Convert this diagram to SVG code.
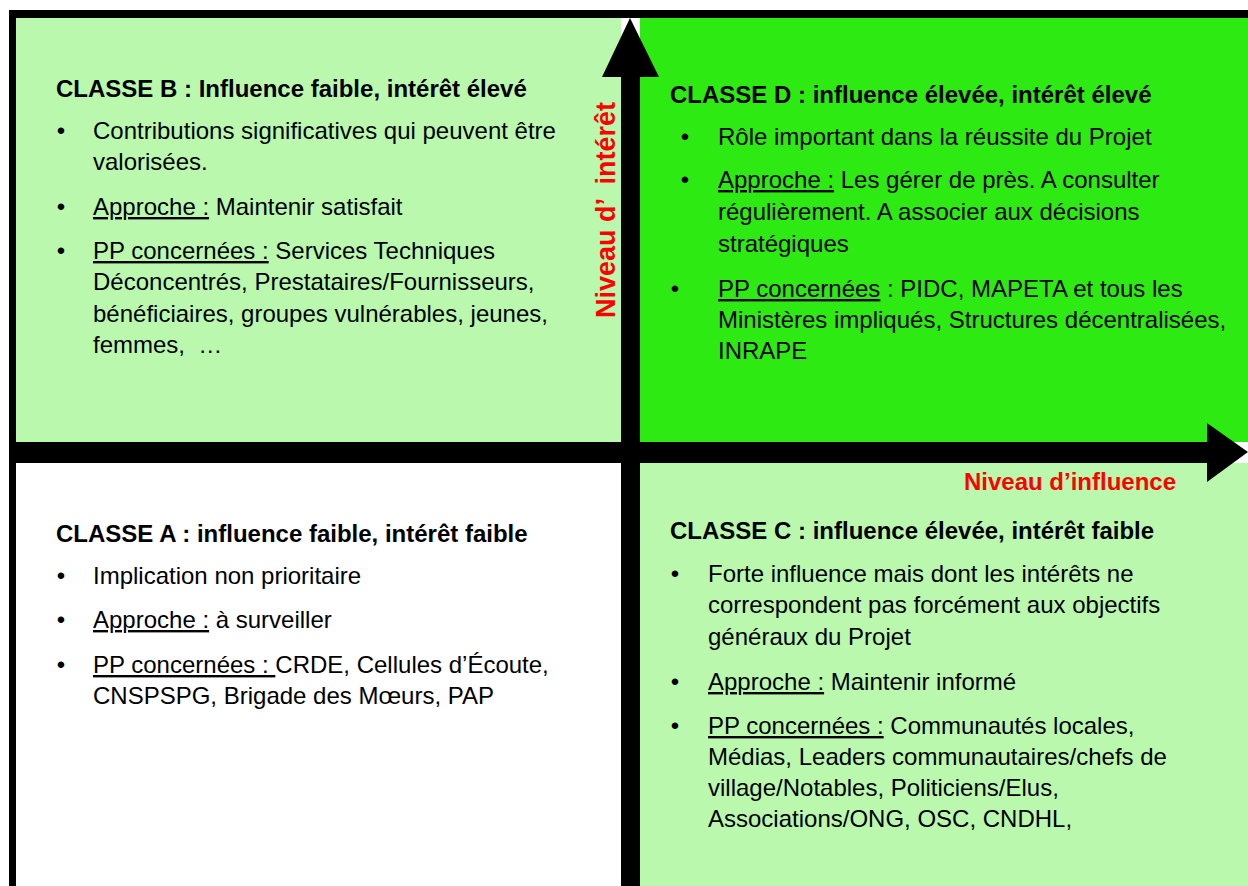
<svg xmlns="http://www.w3.org/2000/svg" width="1248" height="886" viewBox="0 0 1248 886">
<style>
text { font-family: "Liberation Sans", Arial, sans-serif; font-size: 24px; fill: #000; }
.t { font-weight: bold; }
.ax { font-weight: bold; fill: #ff0000; }
.u { text-decoration: underline; }
.bar { fill: #000; }
</style>
<rect x="0" y="0" width="1248" height="886" fill="#ffffff"/>
<g id="classe-b">
<rect x="16" y="18" width="605" height="424" fill="#baf9ad"/>
<text class="t" x="56" y="97">CLASSE B : Influence faible, intérêt élevé</text>
<text x="61" y="139" text-anchor="middle">•</text>
<text x="93" y="139">Contributions significatives qui peuvent être</text>
<text x="93" y="170">valorisées.</text>
<text x="61" y="215" text-anchor="middle">•</text>
<text x="93" y="215"><tspan class="u">Approche :</tspan> Maintenir satisfait</text>
<text x="61" y="259" text-anchor="middle">•</text>
<text x="93" y="259"><tspan class="u">PP concernées :</tspan> Services Techniques</text>
<text x="93" y="290">Déconcentrés, Prestataires/Fournisseurs,</text>
<text x="93" y="322">bénéficiaires, groupes vulnérables, jeunes,</text>
<text x="93" y="353" xml:space="preserve">femmes,  …</text>
</g>
<g id="classe-d">
<rect x="640" y="18" width="608" height="424" fill="#2eea13"/>
<text class="t" x="670" y="103">CLASSE D : influence élevée, intérêt élevé</text>
<text x="685" y="145" text-anchor="middle">•</text>
<text x="718" y="145">Rôle important dans la réussite du Projet</text>
<text x="685" y="188" text-anchor="middle">•</text>
<text x="718" y="188"><tspan class="u">Approche :</tspan> Les gérer de près. A consulter</text>
<text x="718" y="220">régulièrement. A associer aux décisions</text>
<text x="718" y="252">stratégiques</text>
<text x="675" y="297" text-anchor="middle">•</text>
<text x="718" y="297"><tspan class="u">PP concernées</tspan> : PIDC, MAPETA et tous les</text>
<text x="718" y="328">Ministères impliqués, Structures décentralisées,</text>
<text x="718" y="359">INRAPE</text>
</g>
<g id="classe-a">
<rect x="16" y="463" width="605" height="423" fill="#ffffff"/>
<text class="t" x="56" y="542">CLASSE A : influence faible, intérêt faible</text>
<text x="61" y="584" text-anchor="middle">•</text>
<text x="93" y="584">Implication non prioritaire</text>
<text x="61" y="628" text-anchor="middle">•</text>
<text x="93" y="628"><tspan class="u">Approche :</tspan> à surveiller</text>
<text x="61" y="673" text-anchor="middle">•</text>
<text x="93" y="673"><tspan class="u">PP concernées : </tspan>CRDE, Cellules d’Écoute,</text>
<text x="93" y="704">CNSPSPG, Brigade des Mœurs, PAP</text>
</g>
<g id="classe-c">
<rect x="640" y="463" width="608" height="423" fill="#baf9ad"/>
<text class="t" x="670" y="539">CLASSE C : influence élevée, intérêt faible</text>
<text x="675" y="582" text-anchor="middle">•</text>
<text x="708" y="582">Forte influence mais dont les intérêts ne</text>
<text x="708" y="613">correspondent pas forcément aux objectifs</text>
<text x="708" y="645">généraux du Projet</text>
<text x="675" y="690" text-anchor="middle">•</text>
<text x="708" y="690"><tspan class="u">Approche :</tspan> Maintenir informé</text>
<text x="675" y="734" text-anchor="middle">•</text>
<text x="708" y="734"><tspan class="u">PP concernées :</tspan> Communautés locales,</text>
<text x="708" y="765">Médias, Leaders communautaires/chefs de</text>
<text x="708" y="796">village/Notables, Politiciens/Elus,</text>
<text x="708" y="827">Associations/ONG, OSC, CNDHL,</text>
</g>
<g id="frame">
<rect class="bar" x="9" y="10" width="1239" height="8"/>
<rect class="bar" x="9" y="10" width="7" height="876"/>
</g>
<g id="connectors">
<polygon class="bar" points="9,442 1207,442 1207,423 1248,452 1207,482 1207,463 9,463"/>
<polygon class="bar" points="621,886 621,77 602,77 630,18 659,77 640,77 640,886"/>
</g>
<g id="axis-labels">
<text class="ax" x="964" y="490">Niveau d’influence</text>
<text class="ax" style="font-size:27px" transform="translate(615,318) rotate(-90)" x="0" y="0" xml:space="preserve">Niveau d’  intérêt</text>
</g>
</svg>
